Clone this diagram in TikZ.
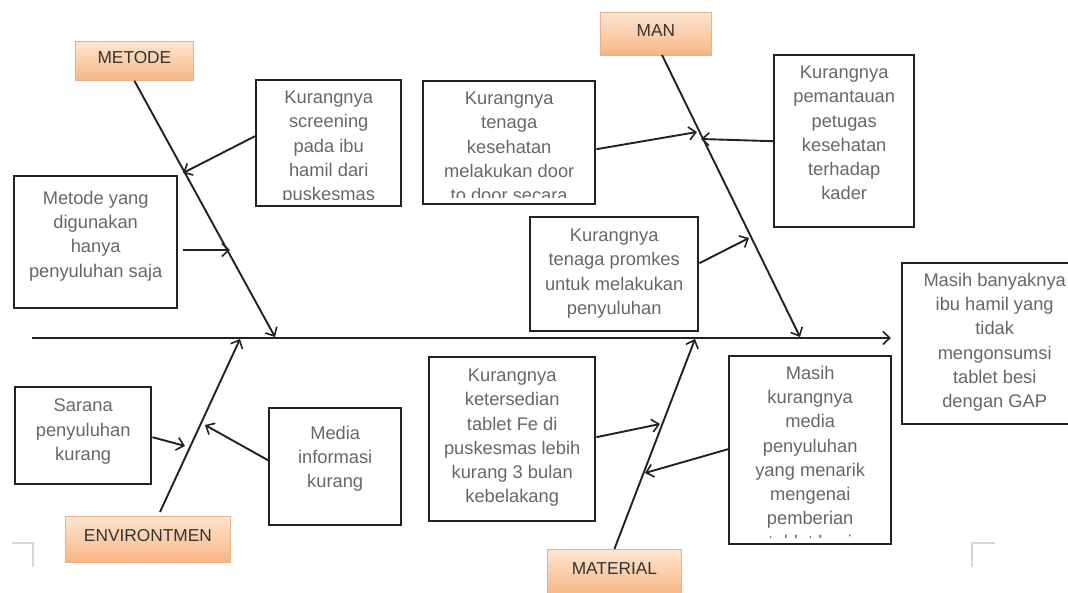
\documentclass[tikz,border=0pt]{standalone}
\usepackage{fontspec}
\setmainfont{Liberation Sans}
\usetikzlibrary{arrows.meta}
\definecolor{txtgray}{HTML}{676767}
\definecolor{boxline}{HTML}{222222}
\definecolor{orangetop}{HTML}{FDE6D2}
\definecolor{orangebot}{HTML}{F7B584}
\definecolor{orangeline}{HTML}{EBB08A}
\definecolor{markgray}{HTML}{D8D8D8}
\tikzset{
  txt/.style={draw=none, text=txtgray, align=center, inner sep=0pt, anchor=north,
    font=\fontsize{18.3}{24.2}\selectfont},
  box/.style={draw=boxline, line width=2.4pt, inner sep=0pt, anchor=north west},
  cat/.style={draw=orangeline, line width=0.8pt, top color=orangetop, bottom color=orangebot,
    anchor=north west, inner sep=0pt, text=black!80, text height=13pt, text depth=8.5pt,
    font=\fontsize{17.3}{20}\selectfont},
  bone/.style={draw=boxline, line width=1.9pt, -{Straight Barb[length=7pt,width=13pt,line width=1.6pt]}},
  arr/.style={draw=boxline, line width=1.9pt, -{Straight Barb[length=7pt,width=13pt,line width=1.6pt]}},
  cornermark/.style={draw=markgray, line width=1.2pt}
}
\newcommand\boxtext[3]{%
  \begin{scope}
    \clip (#1.north west) rectangle ([yshift=8pt]#1.south east);
    \node[txt] (#1-text) at ([yshift=-#2]#1.north) {#3};
  \end{scope}}
\begin{document}
\begin{tikzpicture}[x=1pt,y=-1pt]
\useasboundingbox (0,0) rectangle (1068,593);

% category labels
\node[cat, minimum width=118pt, minimum height=39pt] (metode) at (75,41) {METODE};
\node[cat, minimum width=111pt, minimum height=43pt] (man) at (600,12) {MAN};
\node[cat, minimum width=165pt, minimum height=46pt] (env) at (65,516) {ENVIRONTMEN};
\node[cat, minimum width=134pt, minimum height=46pt] (mat) at (547,549) {MATERIAL};

% effect box
\node[box, minimum width=185pt, minimum height=161pt] (eff) at (901,262) {};
\boxtext{eff}{11pt}{Masih banyaknya\\ibu hamil yang\\tidak\\mengonsumsi\\tablet besi\\dengan GAP}

% cause boxes
\node[box, minimum width=145pt, minimum height=126pt] (b1) at (255,79) {};
\boxtext{b1}{12pt}{Kurangnya\\screening\\pada ibu\\hamil dari\\puskesmas}
\node[box, minimum width=163pt, minimum height=132pt] (b2) at (13,175) {};
\boxtext{b2}{16pt}{Metode yang\\digunakan\\hanya\\penyuluhan saja}
\node[box, minimum width=172pt, minimum height=123pt] (b3) at (422,80) {};
\boxtext{b3}{12pt}{Kurangnya\\tenaga\\kesehatan\\melakukan door\\to door secara}
\node[box, minimum width=140pt, minimum height=172pt] (b4) at (773,54) {};
\boxtext{b4}{12pt}{Kurangnya\\pemantauan\\petugas\\kesehatan\\terhadap\\kader}
\node[box, minimum width=168pt, minimum height=114pt] (b5) at (529,216) {};
\boxtext{b5}{13pt}{Kurangnya\\tenaga promkes\\untuk melakukan\\penyuluhan}
\node[box, minimum width=136pt, minimum height=97pt] (b7) at (14,386) {};
\boxtext{b7}{13pt}{Sarana\\penyuluhan\\kurang}
\node[box, minimum width=132pt, minimum height=117pt] (b8) at (268,407) {};
\boxtext{b8}{19pt}{Media\\informasi\\kurang}
\node[box, minimum width=166pt, minimum height=164pt] (b9) at (428,356) {};
\boxtext{b9}{13pt}{Kurangnya\\ketersedian\\tablet Fe di\\puskesmas lebih\\kurang 3 bulan\\kebelakang}
\node[box, minimum width=162pt, minimum height=188pt] (b10) at (728,355) {};
\boxtext{b10}{11pt}{Masih\\kurangnya\\media\\penyuluhan\\yang menarik\\mengenai\\pemberian\\tablet besi}

% spine
\coordinate (spstart) at (32,338);
\coordinate (sphead) at (891,338);
\draw[bone] (spstart) -- (sphead);

% bone end points on spine
\coordinate (metodeTip) at (275,337);
\coordinate (manTip) at (800,337);
\coordinate (envTip) at (240,339);
\coordinate (matTip) at (695,339);
\coordinate (envStart) at (160,512);
\coordinate (manStart) at (662,55);

\draw[bone] (metode.south) -- (metodeTip);
\draw[bone] (manStart) -- (manTip);
\draw[bone] (envStart) -- (envTip);
\draw[bone] (mat.north) -- (matTip);

% arrow targets on bones
\coordinate (t1) at (183,173);
\coordinate (s2) at (183,250);
\coordinate (t2) at (230,250);
\coordinate (t3) at (697,132);
\coordinate (t4) at (701,139);
\coordinate (t5) at (749,238);
\coordinate (t7) at (185,446);
\coordinate (t8) at (205,425);
\coordinate (t9) at (660,424);
\coordinate (t10) at (645,473);

\draw[arr] ([yshift=7pt]b1.west) -- (t1);
\draw[arr] (s2) -- (t2);
\draw[arr] ([yshift=-6.5pt]b3.east) -- (t3);
\draw[arr] (b4.west) -- (t4);
\draw[arr] ([yshift=11pt]b5.east) -- (t5);
\draw[arr] ([yshift=-1.5pt]b7.east) -- (t7);
\draw[arr] ([yshift=6.5pt]b8.west) -- (t8);
\draw[arr] ([yshift=2pt]b9.east) -- (t9);
\draw[arr] ([yshift=1pt]b10.west) -- (t10);

% page corner marks
\coordinate (lm1) at (12,543);
\coordinate (lm2) at (33,543);
\coordinate (lm3) at (33,567);
\coordinate (rm1) at (995,543);
\coordinate (rm2) at (972,543);
\coordinate (rm3) at (972,567);
\draw[cornermark] (lm1) -- (lm2) -- (lm3);
\draw[cornermark] (rm1) -- (rm2) -- (rm3);
\end{tikzpicture}
\end{document}
